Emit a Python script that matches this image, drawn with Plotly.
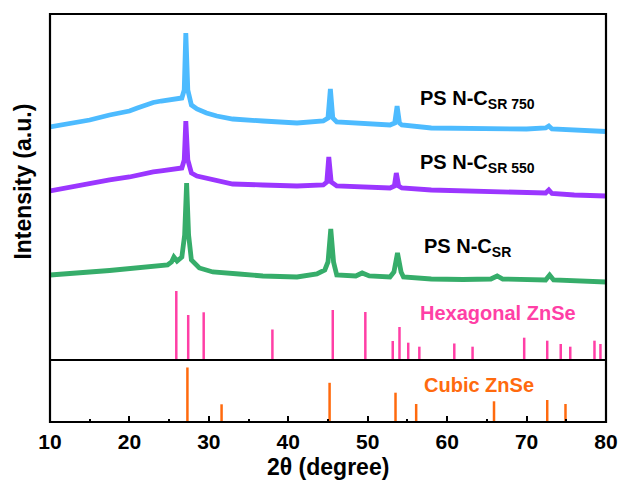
import plotly.graph_objects as go

# ---- data (intensity in arbitrary units) ----
tt_750 = [10, 12.5, 15, 17.5, 20, 21, 22, 23, 24, 25, 25.8, 26.6, 26.9, 27.1, 27.35, 27.8, 28.5, 29.7,
          31, 33, 36.8, 41.1, 44.4, 45.0, 45.3, 45.6, 46.1, 49.4, 52.8, 53.4, 53.7, 54.0, 54.3, 58,
          62, 66, 70, 72.4, 72.8, 73.2, 76, 80]
int_750 = [233, 236.5, 240, 245, 249, 252, 255, 257.5, 259, 260.5, 261, 262, 270, 327, 270, 255, 251, 247,
           244, 241, 239, 237, 239, 242, 271, 242, 238, 237, 235, 237, 254, 237, 235, 232,
           231.5, 231, 231, 232, 234, 231, 230, 228.5]

tt_550 = [10, 12.5, 15, 17.5, 20, 21, 22, 23, 24, 25, 25.8, 26.6, 26.9, 27.1, 27.35, 27.8, 28.5, 29.7,
          31, 33, 36.8, 41.1, 44.4, 44.85, 45.1, 45.4, 46.1, 49.4, 52.8, 53.35, 53.6, 53.9, 54.3, 58,
          62, 66, 70, 72.4, 72.8, 73.2, 76, 80]
int_550 = [169, 173, 177, 180, 183, 185, 186.5, 188, 189, 190, 191, 192, 200, 239, 200, 187, 184, 182,
           179, 176, 175, 174, 175, 178, 203, 178, 174, 173, 172, 174, 187, 174, 172, 170,
           169, 168, 167, 167, 170, 166.5, 165, 164]

tt_sr = [10, 12.5, 15, 17.5, 20, 22, 23, 24.8, 25.3, 25.6, 26.0, 26.6, 26.95, 27.2, 27.45, 27.8, 28.8,
         30.5, 33.8, 36.8, 41.1, 43.6, 44.6, 45.0, 45.35, 45.7, 46.1, 48.5, 49.3, 50.2, 52.8, 53.3,
         53.75, 54.2, 54.5, 58, 62, 65.5, 66.3, 67, 72.4, 72.9, 73.4, 76, 80]
int_sr = [85, 87, 88, 89.5, 91, 92.5, 93, 95, 98, 103, 99, 103, 125, 177, 125, 100, 92,
          88, 86, 84, 83, 86, 90, 98, 131, 98, 85, 84, 87, 84, 83, 88,
          107, 88, 83, 81, 80.5, 81, 84, 81, 80, 85, 80, 79, 78]

hex_pos = [25.9, 27.4, 29.35, 38.0, 45.6, 49.7, 53.15, 54.0, 55.1, 56.5, 60.9, 63.2, 69.7, 72.6,
           74.3, 75.5, 78.55, 79.3]
hex_int = [69, 45, 47.7, 30.5, 50, 48, 19, 33, 17.3, 13.3, 16.5, 13.3, 22.3, 19.3, 16, 13.3, 19.3, 16]

cub_pos = [27.3, 31.6, 45.2, 53.5, 56.1, 65.9, 72.6, 74.9]
cub_int = [54.5, 17.7, 39.2, 29.3, 18, 20.7, 22, 18]

labels = ["PS N-C<sub>SR 750</sub>", "PS N-C<sub>SR 550</sub>", "PS N-C<sub>SR</sub>"]
x_ticks = [10, 20, 30, 40, 50, 60, 70, 80]

c_750 = "#4DBBFF"
c_550 = "#9B36FF"
c_sr = "#36AD6A"
c_hex = "#FF3FA6"
c_cub = "#FF6A0E"

FONT = "Liberation Sans, Arial, sans-serif"


def sticks(pos, val):
    xs, ys = [], []
    for p, v in zip(pos, val):
        xs += [p, p, None]
        ys += [0, v, None]
    return xs, ys


fig = go.Figure()
for tt, it, c in [(tt_750, int_750, c_750), (tt_550, int_550, c_550), (tt_sr, int_sr, c_sr)]:
    fig.add_trace(go.Scatter(x=tt, y=it, mode="lines", line=dict(color=c, width=4.8),
                             xaxis="x", yaxis="y", showlegend=False, hoverinfo="skip"))

hx, hy = sticks(hex_pos, hex_int)
fig.add_trace(go.Scatter(x=hx, y=hy, mode="lines", line=dict(color=c_hex, width=2.5),
                         xaxis="x", yaxis="y", showlegend=False, hoverinfo="skip"))
cx, cy = sticks(cub_pos, cub_int)
fig.add_trace(go.Scatter(x=cx, y=cy, mode="lines", line=dict(color=c_cub, width=2.5),
                         xaxis="x", yaxis="y2", showlegend=False, hoverinfo="skip"))

SEP = 0.152

annots = [
    dict(x=56.3, y=261, text=labels[0]),
    dict(x=56.3, y=196, text=labels[1]),
    dict(x=56.8, y=112, text=labels[2]),
]
ann_list = []
for a in annots:
    ann_list.append(dict(x=a["x"], y=a["y"], xref="x", yref="y", text=a["text"],
                         showarrow=False, xanchor="left", yanchor="middle",
                         font=dict(family=FONT, size=20, color="black", weight="bold")))
ann_list.append(dict(x=66.4, y=47, xref="x", yref="y", text="Hexagonal ZnSe", showarrow=False,
                     xanchor="center", yanchor="middle",
                     font=dict(family=FONT, size=20, color=c_hex, weight="bold")))
ann_list.append(dict(x=64.0, y=37, xref="x", yref="y2", text="Cubic ZnSe", showarrow=False,
                     xanchor="center", yanchor="middle",
                     font=dict(family=FONT, size=20, color=c_cub, weight="bold")))
ann_list.append(dict(x=-0.048, y=0.59, xref="paper", yref="paper", text="Intensity (a.u.)",
                     textangle=-90, showarrow=False, xanchor="center", yanchor="middle",
                     font=dict(family=FONT, size=23, color="black", weight="bold")))
ann_list.append(dict(x=0.5, y=-0.11, xref="paper", yref="paper", text="2θ (degree)",
                     showarrow=False, xanchor="center", yanchor="middle",
                     font=dict(family=FONT, size=23, color="black", weight="bold")))

fig.update_layout(
    template="none",
    width=621, height=480, autosize=False,
    margin=dict(l=50, r=15, t=14, b=58, pad=0),
    paper_bgcolor="white", plot_bgcolor="white",
    xaxis=dict(range=[10, 80], anchor="y2", tickvals=x_ticks, ticks="inside", ticklen=6,
               tickwidth=2, tickcolor="black", showgrid=False, zeroline=False, showline=False,
               automargin=False, ticklabelstandoff=5,
               tickfont=dict(family=FONT, size=21, color="black", weight="bold"),
               minor=dict(tickvals=[15, 25, 35, 45, 55, 65, 75], ticks="inside", ticklen=3,
                          tickwidth=2, tickcolor="black", showgrid=False)),
    yaxis=dict(domain=[SEP, 1], range=[0, 346], visible=False, fixedrange=True, automargin=False),
    yaxis2=dict(domain=[0, SEP], range=[0, 62], visible=False, fixedrange=True, automargin=False),
    annotations=ann_list,
    shapes=[
        dict(type="rect", xref="paper", yref="paper", x0=0, x1=1, y0=0, y1=1,
             line=dict(color="black", width=2.2), layer="above"),
        dict(type="line", xref="paper", yref="paper", x0=0, x1=1, y0=SEP, y1=SEP,
             line=dict(color="black", width=2.2), layer="above"),
    ],
)

fig.write_html("out.html", config={"responsive": False, "displayModeBar": False})
